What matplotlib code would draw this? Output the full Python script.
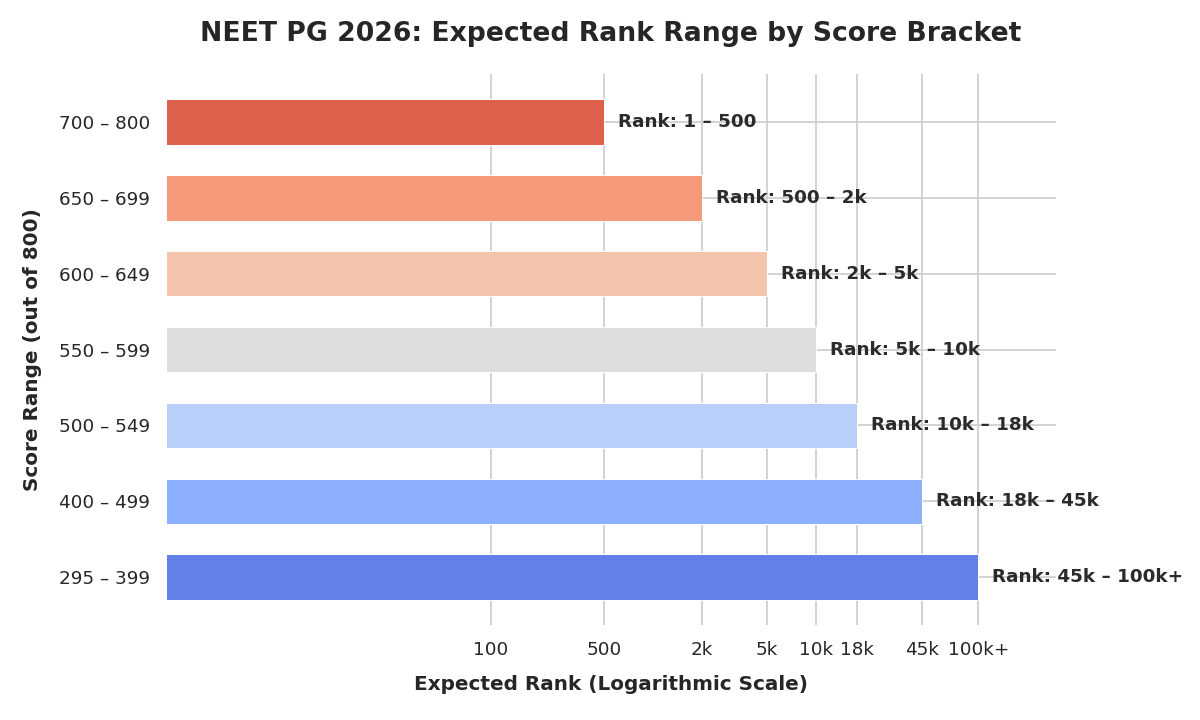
import matplotlib
matplotlib.use('Agg')
import matplotlib.pyplot as plt
from matplotlib.ticker import NullLocator
import seaborn as sns

# score brackets, top to bottom
score_ranges = ['700 – 800', '650 – 699', '600 – 649', '550 – 599',
                '500 – 549', '400 – 499', '295 – 399']
rank_upper = [500, 2000, 5000, 10000, 18000, 45000, 100000]
rank_labels = ['Rank: 1 – 500', 'Rank: 500 – 2k', 'Rank: 2k – 5k', 'Rank: 5k – 10k',
               'Rank: 10k – 18k', 'Rank: 18k – 45k', 'Rank: 45k – 100k+']

tick_values = [100, 500, 2000, 5000, 10000, 18000, 45000, 100000]
tick_names = ['100', '500', '2k', '5k', '10k', '18k', '45k', '100k+']

sns.set_theme(style='whitegrid')
plt.rcParams['font.family'] = ['DejaVu Sans']

fig, ax = plt.subplots(figsize=(10, 6), dpi=120)
fig.subplots_adjust(left=0.138, right=0.88, top=0.897, bottom=0.132)

colors = sns.color_palette('coolwarm_r', len(score_ranges))
y = list(range(len(score_ranges)))

# bars start at rank 1 on the log axis
ax.barh(y, [v - 1 for v in rank_upper], left=1, height=0.6,
        color=colors, edgecolor='white', linewidth=0.6, zorder=2)

for yi, v, lab in zip(y, rank_upper, rank_labels):
    ax.text(v * 1.22, yi, lab, va='center', ha='left', fontsize=11,
            fontweight='bold', color='#2b2b2b', zorder=3)

ax.set_xscale('log')
ax.set_xlim(1, 300000)
ax.set_xticks(tick_values)
ax.set_xticklabels(tick_names)
ax.xaxis.set_minor_locator(NullLocator())

ax.set_yticks(y)
ax.set_yticklabels(score_ranges)
ax.invert_yaxis()

ax.grid(True, axis='both', color='#cccccc', zorder=0)
ax.set_axisbelow(True)

ax.set_xlabel('Expected Rank (Logarithmic Scale)', fontsize=12,
              fontweight='bold', labelpad=10)
ax.set_ylabel('Score Range (out of 800)', fontsize=12,
              fontweight='bold', labelpad=10)
ax.set_title('NEET PG 2026: Expected Rank Range by Score Bracket',
             fontsize=16, fontweight='bold', pad=20)

sns.despine(left=True, bottom=True)

plt.savefig('out.png', dpi=120)
